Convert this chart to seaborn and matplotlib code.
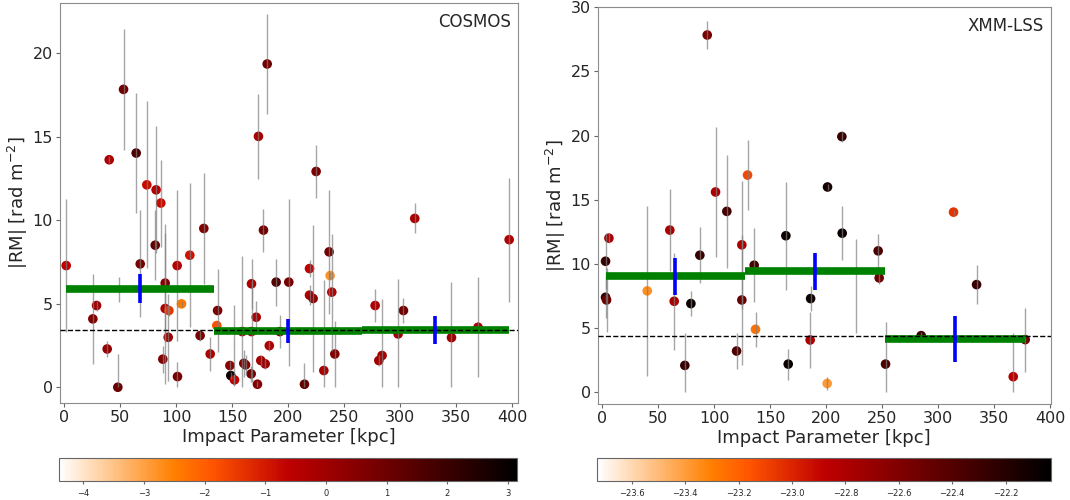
import numpy as np
import matplotlib
matplotlib.use("Agg")
import matplotlib.pyplot as plt
import matplotlib.colors as mcolors
import matplotlib.cm as cm
import seaborn as sns

# ---- COSMOS sample ----
cosmos_b = [1.8, 25.6, 28.9, 38.4, 40.2, 47.9, 53.0, 48.8, 64.3, 67.9,
            73.8, 82.1, 86.3, 81.3, 90.2, 90.2, 93.5, 92.9, 88.1, 100.9,
            101.2, 104.8, 112.2, 121.4, 124.7, 130.4, 136.3, 137.0, 148.0, 148.8,
            152.1, 152.0, 159.0, 160.4, 162.0, 167.3, 167.0, 167.3, 171.5, 172.6,
            173.5, 178.0, 175.6, 179.5, 181.3, 183.2, 189.3, 192.6, 200.6, 214.6,
            219.1, 219.1, 222.3, 225.0, 231.9, 236.6, 237.5, 239.0, 241.7, 277.7,
            281.0, 283.9, 298.2, 303.0, 313.1, 345.9, 369.6, 397.4]
cosmos_rm = [7.28, 4.09, 4.89, 2.29, 13.61, 0.0, 17.82, 5.87, 14.01, 7.38,
             12.11, 11.81, 11.02, 8.5, 6.23, 4.71, 4.59, 2.99, 1.68, 7.28,
             0.64, 4.99, 7.9, 3.09, 9.5, 1.99, 3.69, 4.59, 1.3, 0.7,
             0.44, 2.5, 3.33, 1.43, 1.34, 6.19, 0.8, 3.33, 4.19, 0.18,
             15.01, 9.4, 1.6, 1.4, 19.34, 2.49, 6.29, 3.33, 6.29, 0.18,
             7.1, 5.51, 5.31, 12.91, 1.0, 8.1, 6.68, 5.69, 1.99, 4.89,
             1.6, 1.9, 3.19, 4.59, 10.1, 2.97, 3.59, 8.83]
cosmos_err = [4.0, 2.7, 0.3, 0.47, 0.2, 2.0, 3.6, 0.75, 3.6, 3.2,
              5.0, 3.8, 2.6, 2.1, 3.55, 4.5, 0.3, 2.6, 0.8, 4.5,
              0.9, 0.2, 4.3, 0.3, 3.3, 1.0, 0.2, 2.5, 0.3, 0.2,
              0.3, 2.45, 4.5, 0.8, 0.6, 1.5, 0.5, 3.0, 1.0, 0.2,
              2.55, 1.28, 0.3, 0.3, 2.97, 0.3, 1.4, 1.0, 5.0, 1.26,
              0.5, 0.6, 4.4, 1.57, 5.4, 3.7, 0.2, 3.5, 2.0, 1.0,
              0.3, 3.4, 3.3, 0.75, 0.9, 3.3, 3.0, 3.7]
cosmos_col = [-0.6, 0.6, 0.0, 0.2, -0.3, 1.0, 0.9, -4.3, 1.6, 0.8,
              -0.8, -0.4, -0.8, 1.2, 0.5, -0.3, -1.4, 0.0, 0.6, -0.4,
              0.8, -2.4, -0.9, 0.8, 0.5, -0.3, -1.8, 0.7, 0.4, 3.0,
              -0.6, -4.35, -0.3, 0.6, 0.5, -0.2, 0.9, -0.2, -0.3, 0.5,
              -0.2, 0.9, -0.1, 0.0, 0.9, -0.3, 1.5, 0.8, 0.8, 1.2,
              -0.6, -0.2, 0.4, 0.7, -0.2, 0.9, -2.8, -0.4, 0.6, -0.3,
              -0.1, -0.1, 0.0, 0.9, -0.2, 0.0, -0.3, -0.3]
cosmos_bin_rm = [5.90, 3.37, 3.43]
cosmos_bin_err = [0.87, 0.71, 0.84]
cosmos_ref = 3.41
cosmos_cnorm = (-4.4, 3.15)
cosmos_cticks = [-4, -3, -2, -1, 0, 1, 2, 3]

# ---- XMM-LSS sample ----
xmm_b = [3.0, 6.0, 3.0, 3.9, 40.2, 60.4, 64.3, 79.2, 73.8, 87.2,
         93.8, 101.2, 111.3, 124.7, 124.7, 120.0, 129.8, 135.7, 136.9, 164.0,
         166.1, 186.1, 185.7, 200.9, 201.2, 214.0, 214.3, 226.5, 246.4, 247.3,
         253.0, 313.7, 334.3, 284.8, 367.0, 377.7]
xmm_rm = [10.2, 12.0, 7.39, 7.18, 7.89, 12.63, 7.08, 6.9, 2.08, 10.67,
          27.84, 15.6, 14.09, 11.48, 7.18, 3.2, 16.92, 9.89, 4.89, 12.19,
          2.18, 7.29, 4.06, 0.67, 15.99, 19.92, 12.39, 8.25, 11.01, 8.9,
          2.18, 14.03, 8.38, 4.4, 1.2, 4.09]
xmm_err = [2.2, 0.4, 1.6, 2.5, 6.6, 3.2, 3.8, 1.0, 2.5, 2.2,
           1.07, 5.1, 4.4, 5.0, 5.1, 1.37, 2.7, 2.9, 1.37, 4.2,
           1.2, 1.0, 2.2, 0.5, 0.2, 0.45, 2.08, 3.65, 1.3, 0.5,
           3.3, 0.2, 1.5, 0.3, 3.4, 2.5]
xmm_col = [-22.285, -22.795, -22.285, -22.506, -23.356, -22.795, -22.795, -22.081, -22.285, -22.285,
           -22.574, -22.795, -22.336, -22.795, -22.506, -22.370, -23.118, -22.336, -23.254, -22.081,
           -22.081, -22.081, -22.795, -23.390, -22.149, -22.285, -22.081, -23.730, -22.370, -22.506,
           -22.370, -23.050, -22.285, -22.285, -22.846, -22.506]
xmm_bin_rm = [9.03, 9.42, 4.16]
xmm_bin_err = [1.43, 1.43, 1.78]
xmm_ref = 4.40
xmm_cnorm = (-23.73, -22.03)
xmm_cticks = [-23.6, -23.4, -23.2, -23.0, -22.8, -22.6, -22.4, -22.2]

sns.set_style("ticks")
plt.rcParams["font.family"] = ["DejaVu Sans"]

fig = plt.figure(figsize=(10.7, 5), dpi=100)
ax_l = fig.add_axes([0.0558, 0.1934, 0.428, 0.801])
ax_r = fig.add_axes([0.5586, 0.192, 0.4234, 0.7934])
cax_l = fig.add_axes([0.0551, 0.038, 0.4283, 0.0466])
cax_r = fig.add_axes([0.5582, 0.038, 0.4240, 0.0466])

cmap = "gist_heat_r"


def draw_field(ax, cax, b, rm, err, col, bin_rm, bin_err, ref, cnorm, cticks,
               name, xlim, ylim, yticks):
    b = np.asarray(b)
    rm = np.asarray(rm)
    err = np.asarray(err)
    sns.scatterplot(x=b, y=rm, hue=col, palette=cmap, hue_norm=cnorm,
                    s=48, linewidth=0, legend=False, ax=ax, zorder=2)
    # |RM| cannot go below zero, so the lower error bar is clipped at 0
    lower = np.minimum(err, rm)
    ax.errorbar(b, rm, yerr=[lower, err], fmt="none", ecolor="gray",
                elinewidth=1.0, alpha=0.7, zorder=3)
    # running mean in three equal-width bins spanning the sample
    edges = np.linspace(b.min(), b.max(), 4)
    centers = 0.5 * (edges[:-1] + edges[1:])
    bin_rm = np.asarray(bin_rm)
    bin_err = np.asarray(bin_err)
    ax.hlines(bin_rm, edges[:-1], edges[1:], colors="green", linewidth=5.5,
              zorder=4)
    ax.axhline(ref, color="black", linestyle="--", linewidth=1.0, zorder=5)
    ax.vlines(centers, bin_rm - bin_err, bin_rm + bin_err, colors="blue",
              linewidth=2.6, zorder=6)

    ax.set_xlim(*xlim)
    ax.set_ylim(*ylim)
    ax.set_xticks(np.arange(0, 401, 50))
    ax.set_yticks(yticks)
    ax.tick_params(labelsize=11.5, length=3, color="0.4", pad=2)
    for sp in ax.spines.values():
        sp.set_visible(True)
        sp.set_color("0.55")
    ax.set_xlabel("Impact Parameter [kpc]", fontsize=13, labelpad=2)
    ax.set_ylabel("|RM| [rad m$^{-2}$]", fontsize=13, labelpad=2)
    ax.text(0.985, 0.975, name, transform=ax.transAxes, ha="right",
            va="top", fontsize=12)

    sm = cm.ScalarMappable(norm=mcolors.Normalize(*cnorm), cmap=cmap)
    cb = fig.colorbar(sm, cax=cax, orientation="horizontal")
    cb.set_ticks(cticks)
    cb.ax.tick_params(labelsize=6, length=2, color="0.4")
    cb.outline.set_edgecolor("0.4")


draw_field(ax_l, cax_l, cosmos_b, cosmos_rm, cosmos_err, cosmos_col,
           cosmos_bin_rm, cosmos_bin_err, cosmos_ref, cosmos_cnorm,
           cosmos_cticks, "COSMOS", (-4, 405), (-0.96, 23.0),
           [0, 5, 10, 15, 20])
draw_field(ax_r, cax_r, xmm_b, xmm_rm, xmm_err, xmm_col,
           xmm_bin_rm, xmm_bin_err, xmm_ref, xmm_cnorm,
           xmm_cticks, "XMM-LSS", (-4, 400.5), (-0.93, 30.0),
           [0, 5, 10, 15, 20, 25, 30])

fig.savefig("out.png", dpi=100)
